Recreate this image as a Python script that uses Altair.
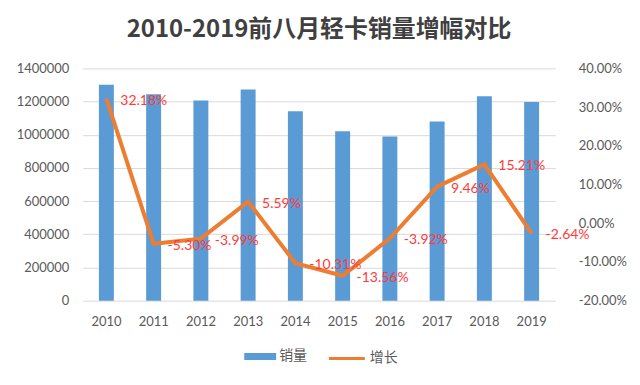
import altair as alt
import pandas as pd

years = ['2010', '2011', '2012', '2013', '2014', '2015', '2016', '2017', '2018', '2019']
sales = [1302000, 1244000, 1206000, 1272000, 1142000, 1021000, 989000, 1080000, 1232000, 1198000]
growth = [0.3218, -0.0530, -0.0399, 0.0559, -0.1031, -0.1356, -0.0392, 0.0946, 0.1521, -0.0264]
left_ticks = [0, 200000, 400000, 600000, 800000, 1000000, 1200000, 1400000]
right_ticks = [-0.2, -0.1, 0.0, 0.1, 0.2, 0.3, 0.4]

df = pd.DataFrame({'year': years, 'sales': sales, 'growth': growth,
                   'label': [f"{g * 100:.2f}%" for g in growth],
                   's1': ['销量'] * len(years), 's2': ['增长'] * len(years)})

FONT = 'Lato, Noto Sans CJK SC, sans-serif'
GRAY = '#595959'

xenc = alt.X('year:N', sort=None, title=None,
             scale=alt.Scale(paddingInner=0, paddingOuter=0),
             axis=alt.Axis(labelAngle=0, ticks=False, domain=False, labelPadding=15,
                           labelFontSize=13, labelColor=GRAY, labelFont=FONT))

bars = alt.Chart(df).mark_bar(size=15).encode(
    x=xenc,
    y=alt.Y('sales:Q', title=None,
            scale=alt.Scale(domain=[0, 1400000], nice=False),
            axis=alt.Axis(values=left_ticks, format='d', ticks=False, domain=False,
                          grid=True, gridColor='#D9D9D9', labelPadding=14,
                          labelFontSize=13, labelColor=GRAY, labelFont=FONT)),
    color=alt.Color('s1:N', scale=alt.Scale(domain=['销量'], range=['#5B9BD5']),
                    legend=alt.Legend(title=None, orient='none', legendX=162, legendY=273,
                                      symbolType='M-1,-0.22H1V0.22H-1Z', labelOffset=3,
                                      symbolSize=1024, symbolStrokeWidth=0, labelFontSize=14,
                                      labelColor=GRAY, labelFont=FONT))
)

yr = alt.Y('growth:Q', title=None,
           scale=alt.Scale(domain=[-0.2, 0.4], nice=False),
           axis=alt.Axis(values=right_ticks, format='.2%', orient='right', ticks=False,
                         labelExpr="replace(datum.label, '\u2212', '-')",
                         domain=False, grid=False, labelPadding=23,
                         labelFontSize=13, labelColor=GRAY, labelFont=FONT))

line = alt.Chart(df).mark_line(strokeWidth=4).encode(
    x=alt.X('year:N', sort=None),
    y=yr,
    stroke=alt.Stroke('s2:N', scale=alt.Scale(domain=['增长'], range=['#ED7D31']),
                      legend=alt.Legend(title=None, orient='none', legendX=245, legendY=271,
                                        symbolType='stroke', labelOffset=3,
                                        symbolSize=1300, symbolStrokeWidth=3, labelFontSize=14,
                                        labelColor=GRAY, labelFont=FONT))
)

labels = alt.Chart(df).mark_text(align='left', baseline='middle', dx=14, dy=2,
                                 fontSize=14, color='#FF3A3A', font=FONT).encode(
    x=alt.X('year:N', sort=None),
    y=yr,
    text='label:N'
)

right = alt.layer(line, labels)

chart = alt.layer(bars, right).resolve_scale(y='independent', color='independent').properties(
    width=474, height=233,
    padding={'left': 8, 'top': 10, 'right': 5, 'bottom': 5},
    title=alt.TitleParams('2010-2019前八月轻卡销量增幅对比', fontSize=24, fontWeight='bold',
                          color='#404040', font='Noto Sans CJK SC', anchor='middle', offset=20)
).configure_view(stroke=None).configure_legend(direction='horizontal')

chart.save("out.html", embed_options={"renderer": "svg", "actions": False})
